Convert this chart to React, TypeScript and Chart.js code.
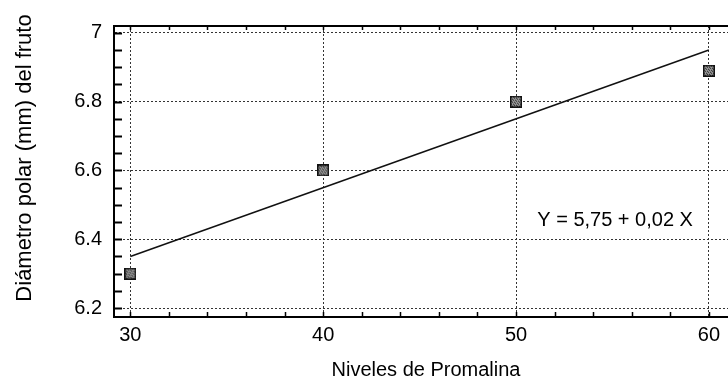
import React, { useEffect, useRef } from 'react';
import { Chart, registerables } from 'chart.js';

Chart.register(...registerables);

// ---- data ----
const xTickValues = [30, 40, 50, 60];
const yTickValues = [6.2, 6.4, 6.6, 6.8, 7];
const promalinaLevels = [30, 40, 50, 60];
const polarDiameter = [6.3, 6.6, 6.8, 6.89];
const fitLevels = [30, 60];
const fitDiameter = [6.35, 6.95];
const equationLabel = 'Y = 5,75 + 0,02 X';
const xTitle = 'Niveles de Promalina';
const yTitle = 'Diámetro polar (mm) del fruto';
const xMinorStep = 2;
const yMinorStep = 0.05;

const FONT = '"Liberation Sans", Arial, sans-serif';

function makeMarker(): HTMLCanvasElement {
  const c = document.createElement('canvas');
  c.width = 12;
  c.height = 12;
  const g = c.getContext('2d')!;
  g.fillStyle = '#9a9a9a';
  g.fillRect(0, 0, 12, 12);
  g.fillStyle = '#222';
  for (let i = 0; i < 12; i++) {
    for (let j = 0; j < 12; j++) {
      if ((i * 3 + j * 5) % 7 < 2) g.fillRect(i, j, 1, 1);
    }
  }
  g.strokeStyle = '#111';
  g.lineWidth = 1.5;
  g.strokeRect(0.75, 0.75, 10.5, 10.5);
  return c;
}

const framePlugin = {
  id: 'frameAndText',
  afterDraw(chart: any) {
    const { ctx, chartArea: a, scales } = chart;
    const x = scales.x;
    const y = scales.y;
    ctx.save();
    ctx.strokeStyle = '#000';
    ctx.lineWidth = 2;
    ctx.beginPath();
    ctx.moveTo(a.left, a.top);
    ctx.lineTo(a.right, a.top);
    ctx.stroke();

    // minor ticks on left axis (inward)
    ctx.lineWidth = 2;
    const y0 = Math.ceil(y.min / yMinorStep - 1e-6);
    const y1 = Math.floor(y.max / yMinorStep + 1e-6);
    for (let i = y0; i <= y1; i++) {
      const py = Math.round(y.getPixelForValue(i * yMinorStep)) + 0.5;
      ctx.beginPath();
      ctx.moveTo(a.left, py);
      ctx.lineTo(a.left + 8, py);
      ctx.stroke();
    }
    // minor ticks on bottom & top (inward)
    ctx.lineWidth = 1.5;
    const x0 = Math.ceil(x.min / xMinorStep - 1e-6);
    const x1 = Math.floor(x.max / xMinorStep + 1e-6);
    for (let i = x0; i <= x1; i++) {
      const px = Math.round(x.getPixelForValue(i * xMinorStep)) + 0.5;
      ctx.beginPath();
      ctx.moveTo(px, a.bottom);
      ctx.lineTo(px, a.bottom - 5);
      ctx.moveTo(px, a.top);
      ctx.lineTo(px, a.top + 4);
      ctx.stroke();
    }

    // equation
    ctx.fillStyle = '#000';
    ctx.font = `20px ${FONT}`;
    ctx.textAlign = 'left';
    ctx.textBaseline = 'alphabetic';
    ctx.fillText(equationLabel, x.getPixelForValue(51.1), y.getPixelForValue(6.4385));

    // axis titles
    ctx.font = `20px ${FONT}`;
    ctx.textAlign = 'center';
    ctx.textBaseline = 'middle';
    ctx.fillText(xTitle, 426, 370);

    ctx.font = `22px ${FONT}`;
    ctx.translate(25, 158);
    ctx.rotate(-Math.PI / 2);
    ctx.fillText(yTitle, 0, 0);
    ctx.restore();
  },
};

export default function App() {
  const ref = useRef<HTMLCanvasElement>(null);

  useEffect(() => {
    if (!ref.current) return;
    const marker = makeMarker();
    const chart = new Chart(ref.current, {
      type: 'scatter',
      data: {
        datasets: [
          {
            type: 'line',
            label: 'fit',
            data: fitLevels.map((v, i) => ({ x: v, y: fitDiameter[i] })),
            borderColor: '#111',
            borderWidth: 1.5,
            pointRadius: 0,
            fill: false,
          } as any,
          {
            label: 'obs',
            data: promalinaLevels.map((v, i) => ({ x: v, y: polarDiameter[i] })),
            pointStyle: marker,
            pointRadius: 6,
          },
        ],
      },
      options: {
        animation: false,
        responsive: false,
        maintainAspectRatio: false,
        layout: { padding: { top: 26, left: 0, right: 0, bottom: 0 } },
        plugins: { legend: { display: false }, tooltip: { enabled: false } },
        scales: {
          x: {
            type: 'linear',
            min: 29.154,
            max: 61.25,
            afterBuildTicks: (s: any) => {
              s.ticks = xTickValues.map((v) => ({ value: v }));
            },
            afterFit: (s: any) => {
              s.height = 65;
            },
            ticks: {
              color: '#000',
              font: { family: FONT, size: 20 },
              padding: 6,
              maxRotation: 0,
              callback: (v: any) => String(v),
            },
            grid: {
              color: '#333',
              lineWidth: 1,
              drawTicks: false,
            },
            border: { display: true, color: '#000', width: 2, dash: [2, 2] } as any,
          },
          y: {
            type: 'linear',
            min: 6.174,
            max: 7.02,
            afterBuildTicks: (s: any) => {
              s.ticks = yTickValues.map((v) => ({ value: v }));
            },
            afterFit: (s: any) => {
              s.width = 114;
            },
            ticks: {
              color: '#000',
              font: { family: FONT, size: 20 },
              padding: 12,
              callback: (v: any) => (Math.abs(v - 7) < 1e-9 ? '7' : Number(v).toFixed(1)),
            },
            grid: {
              color: '#333',
              lineWidth: 1,
              drawTicks: false,
            },
            border: { display: true, color: '#000', width: 2, dash: [2, 2] } as any,
          },
        },
      },
      plugins: [framePlugin],
    });
    return () => chart.destroy();
  }, []);

  return (
    <div style={{ position: 'absolute', left: 0, top: 0, width: 728, height: 382, overflow: 'hidden', background: '#fff' }}>
      <canvas ref={ref} width={740} height={382} style={{ display: 'block' }} />
    </div>
  );
}
